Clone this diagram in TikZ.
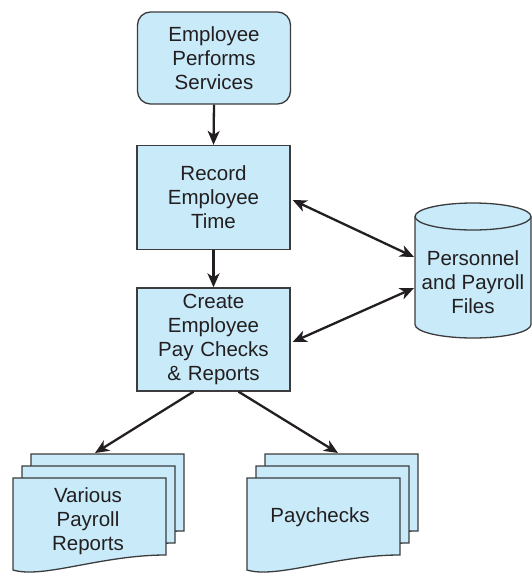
\documentclass[tikz,border=0pt]{standalone}
\usepackage{fontspec}
\setmainfont{Liberation Sans}
\usetikzlibrary{arrows.meta,calc}
\definecolor{boxfill}{RGB}{200,234,249}
\definecolor{ink}{RGB}{35,31,32}
\definecolor{edge}{RGB}{60,60,62}
\newcommand\docshape[2]{%
  \draw[doc] (#1,#2) -- ++(153,0) -- ++(0,77)
    .. controls +(-65,0) and +(30,9) .. ($(#1,#2)+(0,92)$) -- cycle;}
\begin{document}
\begin{tikzpicture}[x=1pt,y=-1pt,
  txt/.style={font=\fontsize{20.5}{24}\selectfont, text=ink, align=center, inner sep=0pt},
  box/.style={txt, draw=edge, line width=1.3pt, fill=boxfill, minimum width=153pt, text width=150pt},
  rbox/.style={box, rounded corners=13pt},
  doc/.style={draw=edge, line width=1.3pt, fill=boxfill},
  conn/.style={draw=ink, line width=2.3pt, -{Stealth[length=14pt,width=12pt,inset=4pt]}},
  dconn/.style={draw=ink, line width=2.3pt, {Stealth[length=14pt,width=12pt,inset=4pt]}-{Stealth[length=14pt,width=12pt,inset=4pt]}}
]
\useasboundingbox (0,0) rectangle (532,576);

% process boxes
\node[rbox, minimum height=92pt] (emp) at (214,58) {Employee\\Performs\\Services};
\node[box, minimum height=104pt] (rec) at (213.5,197.5) {Record\\Employee\\Time};
\node[box, minimum height=103pt] (cre) at (213.5,339.5) {Create\\Employee\\Pay Checks\\\& Reports};

% database cylinder
\path[fill=boxfill] (415,216.5) -- (415,324.5)
  arc[start angle=180,end angle=0,x radius=58,y radius=13.5] -- (531,216.5)
  arc[start angle=0,end angle=-180,x radius=58,y radius=13.5] -- cycle;
\draw[edge, line width=1.3pt] (415,216.5) -- (415,324.5)
  arc[start angle=180,end angle=0,x radius=58,y radius=13.5] -- (531,216.5);
\draw[edge, line width=1.3pt, fill=boxfill] (473,216.5) ellipse[x radius=58,y radius=13.5];
\node[txt] (db) at (473,282) {Personnel\\and Payroll\\Files};
\coordinate (dbA) at (414,257);
\coordinate (dbB) at (414,288);

% documents
\docshape{31}{454}
\docshape{22}{466}
\docshape{13}{478}
\node[txt] (rep) at (88,521) {Various\\Payroll\\Reports};
\coordinate (tV) at (95,453);

\docshape{265}{454}
\docshape{256}{466}
\docshape{247}{478}
\node[txt] (pay) at (320,517) {Paychecks};
\coordinate (tP) at (338,453);

% connectors
\draw[conn] (emp.south) -- (rec.north);
\draw[conn] (rec.south) -- (cre.north);
\draw[dconn] ([xshift=2pt,yshift=-2.5pt]rec.east) -- (dbA);
\draw[dconn] ([xshift=2pt,yshift=-2.5pt]cre.east) -- (dbB);
\draw[conn] ([xshift=-20pt]cre.south) -- (tV);
\draw[conn] ([xshift=25pt]cre.south) -- (tP);
\end{tikzpicture}
\end{document}
